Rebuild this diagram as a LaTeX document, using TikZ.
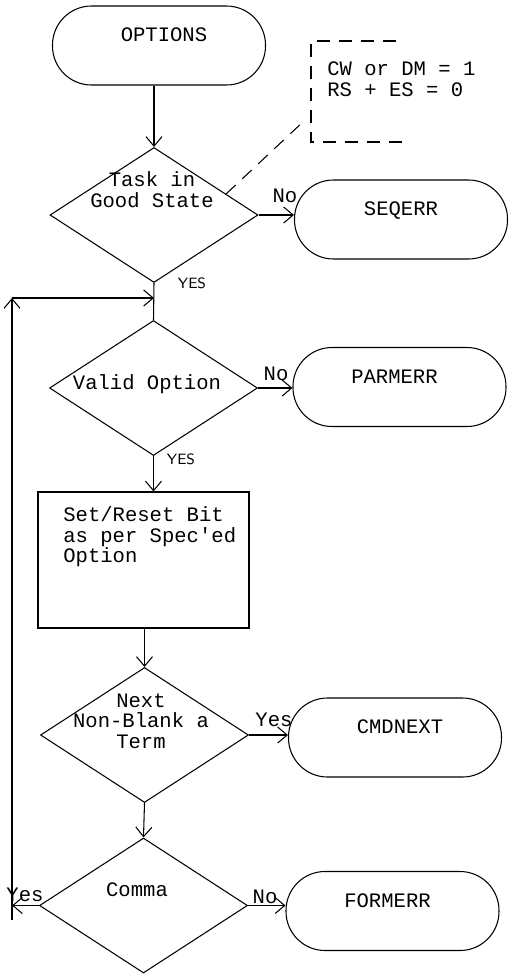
\documentclass[tikz,border=0pt]{standalone}
\usepackage{fontspec}
\setmonofont{Liberation Mono}
\usepackage{tikz}
\usetikzlibrary{positioning,shapes.geometric,arrows.meta,calc}

\begin{document}
\begin{tikzpicture}[x=0.2mm,y=-0.2mm,line width=0.6pt,
  font=\ttfamily\fontsize{11.7}{11.8}\selectfont,
  terminal/.style={draw,rectangle,rounded corners=7.8mm,minimum width=42.6mm,
    minimum height=15.8mm,text depth=4.2mm},
  decision/.style={draw,diamond,inner sep=0pt,minimum width=41.6mm,minimum height=27mm},
  process/.style={draw,rectangle,minimum width=42.2mm,minimum height=27.2mm},
  arr/.style={-{Straight Barb[length=1.9mm,width=3.2mm]}},
  note/.style={dash pattern=on 2.6mm off 1.8mm},
  hand/.style={font=\sffamily\fontsize{8.5}{8.5}\selectfont}]
  \useasboundingbox (0,0) rectangle (508,975);

  % Terminals
  \node[terminal] (options) at (159,45.5) {\hspace*{2mm}OPTIONS};
  \node[terminal] (seqerr) at (401,219.5) {SEQERR};
  \node[terminal] (parmerr) at (399.5,387) {PARMERR\hspace*{2mm}};
  \node[terminal] (cmdnext) at (395,737.5) {\hspace*{2mm}CMDNEXT};
  \node[terminal] (formerr) at (392.5,911) {FORMERR\hspace*{2mm}};

  % Decisions
  \node[decision] (task) at (154,215) {};
  \node[align=center] (task-txt) at (152,190) {Task in\\Good State};
  \node[decision] (valid) at (153.5,388) {};
  \node (valid-txt) at (147,384) {Valid Option};
  \node[decision] (next) at (144.5,735) {};
  \node[align=center] (next-txt) at (141,721) {Next\\Non-Blank a\\Term};
  \node[decision] (comma) at (143.5,905.5) {};
  \node (comma-txt) at (137,890) {Comma};

  % Process
  \node[process] (setbit) at (143.5,560) {};
  \node[anchor=north west,align=left] (setbit-txt) at (57,500)
    {Set/Reset Bit\\as per Spec'ed\\Option};

  % Annotation
  \draw[note] (396,41) -- (311,41) -- (311,142) -- (407,142);
  \node[anchor=west,align=left] (note-txt) at (321,79) {CW or DM = 1\\RS + ES = 0};
  \coordinate (note-tip) at (305,120);
  \draw[note] ($(task.north)!0.69!(task.east)$) -- (note-tip);

  % Main flow
  \draw[arr] (task.north |- options.south) -- (task.north);
  \draw[arr] (task.east) -- (task.east -| seqerr.west);
  \draw (task.south) -- (valid.north);
  \draw[arr] (valid.east) -- (valid.east -| parmerr.west);
  \draw[arr] (valid.south) -- (valid.south |- setbit.north);
  \draw[arr] (next.north |- setbit.south) -- (next.north);
  \draw[arr] (next.east) -- (next.east -| cmdnext.west);
  \draw[arr] (next.south) -- (comma.north);
  \draw[arr] (comma.east) -- (comma.east -| formerr.west);

  % Loop back
  \coordinate (loop-bl) at (12,905.5);
  \coordinate (loop-tl) at (12,298);
  \draw[arr] (comma.west) -- (loop-bl);
  \draw (loop-bl) -- ++(0,14);
  \draw[arr] (loop-bl) -- (loop-tl);
  \draw[arr] (loop-tl) -- (task.south |- loop-tl);

  % Branch labels
  \node (no-seq) at (285,196) {No};
  \node[hand] (yes-task) at (192,283) {YES};
  \node (no-parm) at (276,374) {No};
  \node[hand] (yes-valid) at (181,459) {YES};
  \node (yes-cmd) at (274,720) {Yes};
  \node (no-form) at (265,897) {No};
  \node (yes-loop) at (25,895) {Yes};
\end{tikzpicture}
\end{document}
